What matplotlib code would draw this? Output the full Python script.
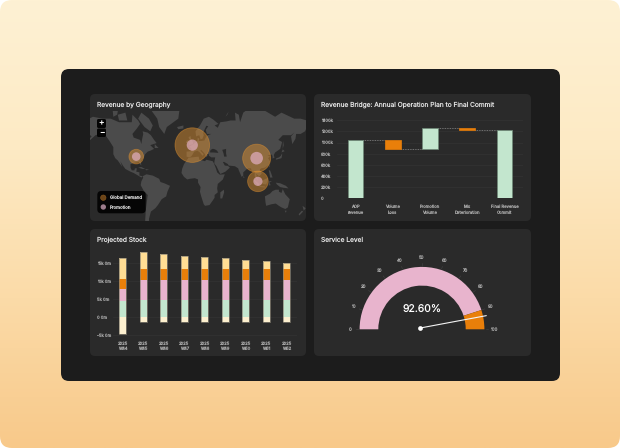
#!/usr/bin/env python3
import numpy as np
import matplotlib

matplotlib.use("Agg")

import matplotlib.pyplot as plt
from matplotlib.colors import LinearSegmentedColormap
from matplotlib.patches import Circle, FancyBboxPatch, Polygon, Wedge

W, H = 620, 448

PANEL = "#2a2a2a"
DARK = "#1c1c1c"
LAND = "#4b4b4b"
ORANGE = "#e97f0a"
PINK = "#e8b4cd"
GREEN = "#c3e6ce"
YELLOW = "#ffdd94"
PALE = "#fdf0cf"
TEXT = "#e4e4e4"
TICK = "#a8a8a8"
GRID = "#343434"

# waterfall
bridge_labels = ["AOP\nrevenue", "Volume\nLoss", "Promotion\nVolume", "Mix\nDeterioration", "Final Revenue\nCommit"]
bridge_start = [0, 1048, 885, 1268, 0]
bridge_end = [1048, 885, 1268, 1232, 1232]
bridge_ticks = [0, 200, 400, 600, 800, 1000, 1200, 1400]
bridge_tick_labels = ["0", "200k", "400k", "600k", "800k", "1000k", "1200k", "1400k"]

# stacked bars
weeks = ["2025\nW44", "2025\nW45", "2025\nW46", "2025\nW47", "2025\nW48", "2025\nW49", "2025\nW50", "2025\nW51", "2025\nW52"]
stock_neg = [-4.6, -1.2, -1.2, -1.2, -1.2, -1.2, -1.2, -1.2, -1.2]
stock_green = [4.4, 4.7, 4.7, 4.7, 4.7, 4.7, 4.7, 4.7, 4.7]
stock_pink = [3.4, 5.6, 5.6, 5.6, 5.6, 5.6, 5.6, 5.6, 5.6]
stock_orange = [2.8, 2.9, 2.9, 2.9, 2.9, 2.9, 2.9, 2.9, 2.9]
stock_yellow = [5.8, 4.7, 4.1, 3.7, 3.3, 3.0, 2.6, 2.3, 1.8]
stock_ticks = [-5, 0, 5, 10, 15]
stock_tick_labels = ["-5k 0m", "0 0m", "5k 0m", "10k 0m", "15k 0m"]

# gauge
gauge_value = 92.6
gauge_split = 90
gauge_ticks = [0, 10, 20, 30, 40, 50, 60, 70, 80, 90, 100]

# map bubbles: lon, lat, outer px radius, inner px radius
bubble_lon = [-88, 0, 101, 103]
bubble_lat = [37, 50, 35, 1]
bubble_demand = [7.3, 17.3, 14.0, 10.3]
bubble_promo = [4.3, 5.6, 6.3, 4.6]

LAND_SHAPES = [
    # north america
    [(-168, 66), (-162, 70), (-156, 71), (-141, 70), (-128, 70), (-115, 68), (-108, 68), (-95, 68), (-94, 72), (-85, 69),
     (-82, 67), (-87, 64), (-94, 60), (-92, 57), (-82, 55), (-80, 51), (-79, 55), (-77, 60), (-78, 62), (-70, 61),
     (-65, 59), (-60, 55), (-56, 52), (-66, 50), (-60, 46), (-66, 44), (-70, 43), (-74, 40), (-76, 36), (-81, 31),
     (-80, 25), (-82, 27), (-84, 30), (-90, 29), (-97, 27), (-97, 22), (-95, 18), (-91, 18), (-90, 21), (-87, 21),
     (-88, 16), (-83, 15), (-83, 10), (-78, 9), (-80, 7), (-85, 10), (-92, 14), (-97, 16), (-105, 20), (-109, 25),
     (-113, 31), (-110, 23), (-117, 32), (-121, 35), (-124, 40), (-124, 48), (-130, 54), (-135, 58), (-145, 60),
     (-152, 59), (-160, 55), (-165, 54), (-158, 58), (-165, 61), (-166, 64)],
    # south america
    [(-78, 9), (-72, 12), (-62, 10), (-52, 5), (-50, 0), (-44, -2), (-35, -6), (-39, -15), (-41, -22), (-48, -26),
     (-54, -34), (-58, -38), (-65, -42), (-68, -50), (-68, -55), (-74, -52), (-73, -40), (-70, -20), (-76, -14),
     (-81, -5), (-80, 1), (-77, 7)],
    # greenland and arctic islands
    [(-73, 78), (-60, 82), (-30, 83.5), (-18, 78), (-22, 70), (-40, 65), (-44, 60), (-52, 65), (-55, 70), (-70, 76)],
    [(-80, 73), (-68, 70), (-62, 66), (-66, 62), (-75, 65), (-85, 70)],
    [(-117, 72), (-105, 73), (-102, 69), (-115, 69)],
    [(-125, 74), (-116, 75), (-118, 72), (-124, 71)],
    [(-59, 51), (-53, 47), (-59, 47)],
    # caribbean
    [(-85, 22), (-80, 23), (-74, 20), (-78, 20)],
    [(-74, 20), (-68, 19), (-72, 18)],
    # eurasia
    [(-9, 37), (-9, 43), (-2, 43.5), (-1, 46), (-4.5, 48.5), (2, 51), (8, 54), (8.5, 57), (11, 56), (10, 54), (14, 54),
     (19, 54.5), (21, 57), (24, 59), (30, 60), (23, 60), (21, 63), (25, 65.5), (22, 65.8), (17, 61), (18, 59), (16, 56),
     (13, 55.5), (11, 59), (6, 58), (5, 62), (12, 66), (18, 70), (26, 71), (33, 69.5), (41, 67), (35, 66), (40, 64.5),
     (44, 68), (54, 68.5), (60, 69), (68, 69), (67, 73), (73, 72), (75, 68), (80, 73), (90, 75), (104, 77.7), (113, 74),
     (130, 71), (140, 73), (160, 70), (170, 70), (180, 69), (180, 65), (177, 62), (170, 60), (163, 60), (162, 56),
     (157, 51), (155, 58), (160, 61), (155, 59), (142, 59), (135, 55), (141, 53), (138, 46), (130, 42), (128, 39),
     (129, 35.5), (126, 34.5), (126, 37), (125, 39.5), (121, 39), (118, 39), (122, 37), (119, 35), (122, 31), (120, 26),
     (114, 22), (108, 21), (106, 19), (109, 13), (105, 9), (100, 13), (103.5, 1.5), (100, 6), (98, 9), (98, 16), (94, 16),
     (92, 21), (87, 21), (80, 15), (80, 10), (77.5, 8), (73, 18), (72, 21), (67, 24), (57, 25), (56, 27), (50, 30),
     (48, 30), (51, 25), (56, 24.5), (59, 22), (52, 16), (44, 12.5), (42, 16), (38, 24), (34.5, 28), (35, 32), (36, 36),
     (30, 36), (26, 38), (26, 40), (23, 40), (24, 38), (22, 36.5), (19, 41), (14, 45), (12.5, 44), (18, 40), (16, 38),
     (12, 42), (8, 44), (3, 43), (0, 39), (-2, 37), (-5, 36)],
    # africa
    [(-6, 35.5), (10, 37), (11, 33), (20, 31), (22, 33), (32, 31), (34, 28), (37, 21), (39, 15), (43, 11.5), (51, 12),
     (48, 4), (40, -3), (39, -10), (40, -16), (35, -20), (35, -24), (32, -28), (27, -34), (20, -35), (18, -33), (14, -22),
     (12, -15), (13, -8), (9, -1), (9, 4), (4, 6), (-4, 5), (-8, 4), (-13, 8), (-17, 14), (-16, 20), (-13, 27), (-9, 32)],
    # islands
    [(-5, 50), (1, 51), (1, 53), (-2, 56), (-3, 58.5), (-6, 57), (-3, 54), (-5, 52)],
    [(-10, 52), (-6, 52), (-6, 55), (-9, 54)],
    [(-24, 65), (-14, 66), (-14, 64), (-22, 63.5)],
    [(52, 71), (58, 74), (68, 77), (60, 75.5), (55, 72)],
    [(131, 33), (136, 34), (140, 35), (141, 39), (141, 41), (139, 38), (136, 36), (132, 35)],
    [(140, 42), (145, 43.5), (142, 45.5)],
    [(142, 46), (143.5, 50), (142.5, 54), (142, 50)],
    [(95, 5.5), (104, -2), (106, -6), (102, -4.5), (97, 2)],
    [(105, -6.5), (114, -7), (114, -8.5), (106, -7.8)],
    [(109, 1), (114, 4.5), (119, 6.5), (118, 1), (116, -4), (110, -3)],
    [(120, 1), (125, 1.5), (121, -1), (123, -5), (120, -5.5)],
    [(120, 18), (122, 18), (124, 13), (126, 7), (122, 7), (121, 14)],
    [(120.5, 25), (122, 25), (121, 22)],
    [(131, -1), (138, -2), (147, -6), (151, -10), (143, -9), (138, -8), (133, -4)],
    [(114, -22), (122, -18), (126, -14), (131, -12), (136, -12), (136, -15), (140, -17), (142, -11), (146, -19),
     (153, -26), (150, -37), (146, -39), (140, -37), (136, -35), (131, -32), (124, -33), (116, -35), (115, -31)],
    [(145, -41), (148, -41), (147, -43.5)],
    [(173, -35), (178, -38), (175, -41), (174, -38)],
    [(172, -41), (174, -42), (168, -46.5), (167, -45)],
    [(44, -16), (49.5, -12), (50, -16), (47, -25), (44, -25)],
    [(80, 9.5), (82, 7), (80.5, 6)],
]

SEA_SHAPES = [
    [(28, 42), (33, 42), (41, 41.5), (39, 44), (37, 45), (34, 46), (31, 46), (28, 44)],
    [(47, 45), (53, 46), (53, 41), (54, 37), (50, 37), (49, 41)],
]


def px_axes(fig, x0, y0, x1, y1):
    return fig.add_axes([x0 / W, 1 - y1 / H, (x1 - x0) / W, (y1 - y0) / H])


def rounded(x0, y0, x1, y1, r, **kw):
    return FancyBboxPatch((x0, y0), x1 - x0, y1 - y0, boxstyle=f"round,pad=0,rounding_size={r}", linewidth=0, **kw)


def merc(lat):
    return np.degrees(np.log(np.tan(np.pi / 4 + np.radians(lat) / 2)))


def clean(ax):
    ax.patch.set_alpha(0)
    for s in ax.spines.values():
        s.set_visible(False)


def draw_background(fig):
    bg = fig.add_axes([0, 0, 1, 1])
    bg.axis("off")
    cmap = LinearSegmentedColormap.from_list("bg", ["#fef1d4", "#fdeac4", "#fbdba8", "#f8c98a"])
    ramp = np.linspace(0, 1, 256)[:, None]
    im = bg.imshow(ramp, extent=(0, W, H, 0), cmap=cmap, aspect="auto")
    bg.set_xlim(0, W)
    bg.set_ylim(H, 0)
    clip = rounded(0, 0, W, H, 12, facecolor="none")
    bg.add_patch(clip)
    im.set_clip_path(clip)
    bg.add_patch(rounded(61, 69, 560, 381, 8, facecolor=DARK))
    for x0, y0, x1, y1, title in [
        (90, 94, 306, 221, "Revenue by Geography"),
        (314, 94, 531, 221, "Revenue Bridge: Annual Operation Plan to Final Commit"),
        (90, 229, 306, 356, "Projected Stock"),
        (314, 229, 531, 356, "Service Level"),
    ]:
        bg.add_patch(rounded(x0, y0, x1, y1, 5, facecolor=PANEL))
        bg.text(x0 + 7, y0 + 11, title, color=TEXT, fontsize=4.75, va="center")


def draw_map(fig):
    x0, y0, x1, y1 = 90, 111.5, 306, 221
    ax = px_axes(fig, x0, y0, x1, y1)
    ax.axis("off")
    scale = 0.637
    ax.set_xlim((x0 - 192.3) / scale, (x1 - 192.3) / scale)
    ax.set_ylim((182 - y1) / scale, (182 - y0) / scale)

    for shape in LAND_SHAPES:
        pts = np.array(shape, dtype=float)
        ax.add_patch(Polygon(np.column_stack([pts[:, 0], merc(pts[:, 1])]), closed=True, facecolor=LAND, edgecolor="none"))
    for shape in SEA_SHAPES:
        pts = np.array(shape, dtype=float)
        ax.add_patch(Polygon(np.column_stack([pts[:, 0], merc(pts[:, 1])]), closed=True, facecolor=PANEL, edgecolor="none"))

    for lon, lat, outer, inner in zip(bubble_lon, bubble_lat, bubble_demand, bubble_promo):
        ax.add_patch(Circle((lon, merc(lat)), outer / scale, facecolor="#e8952f", alpha=0.45,
                            edgecolor="#e8952f", linewidth=0.6))
        ax.add_patch(Circle((lon, merc(lat)), inner / scale, facecolor=PINK, alpha=0.65, edgecolor="none"))


def draw_map_overlay(fig):
    ov = fig.add_axes([0, 0, 1, 1])
    ov.set_xlim(0, W)
    ov.set_ylim(H, 0)
    ov.axis("off")
    ov.add_patch(rounded(97, 119, 106, 128, 1.5, facecolor="#050505"))
    ov.add_patch(rounded(97, 128.5, 106, 137, 1.5, facecolor="#050505"))
    ov.text(101.6, 123.3, "+", color="white", fontsize=6, ha="center", va="center")
    ov.text(101.6, 132.5, "\u2212", color="white", fontsize=6, ha="center", va="center")
    ov.add_patch(rounded(97.3, 191, 145.7, 213.3, 4, facecolor="#050505"))
    ov.add_patch(Circle((103.3, 197.7), 2.7, facecolor="#6b4418", edgecolor="#8a5a20", linewidth=0.4))
    ov.add_patch(Circle((103.3, 207), 2.7, facecolor="#9c7c8c", edgecolor="none"))
    ov.text(110, 198, "Global Demand", color="#d0d0d0", fontsize=3.2, va="center")
    ov.text(110, 207.2, "Promotion", color="#d0d0d0", fontsize=3.2, va="center")


def draw_bridge(fig):
    ax = px_axes(fig, 337, 120.3, 523, 198.3)
    clean(ax)
    x = np.arange(len(bridge_labels))
    for i, (a, b) in enumerate(zip(bridge_start, bridge_end)):
        colour = GREEN if b > a else ORANGE
        ax.bar(x[i], abs(b - a), bottom=min(a, b), width=0.42, color=colour,
               edgecolor="#6f8a78" if b > a else colour, linewidth=0.5, zorder=3)
    for i in range(len(x) - 1):
        ax.plot([x[i] + 0.21, x[i + 1] - 0.21], [bridge_end[i], bridge_end[i]], color="#8a8a8a",
                linewidth=0.6, linestyle=(0, (1, 1)), zorder=2)
    ax.set_xlim(-0.5, 4.5)
    ax.set_ylim(0, 1400)
    ax.set_yticks(bridge_ticks)
    ax.set_yticklabels(bridge_tick_labels, ha="left")
    ax.set_xticks(x)
    ax.set_xticklabels(bridge_labels, linespacing=1.35)
    ax.tick_params(axis="y", length=0, labelsize=3.0, labelcolor=TICK, pad=11.3)
    ax.tick_params(axis="x", length=0, labelsize=3.0, labelcolor=TICK, pad=4.5)
    ax.grid(axis="y", color=GRID, linewidth=0.5, zorder=0)
    ax.set_axisbelow(True)


def draw_stock(fig):
    ax = px_axes(fig, 112.5, 251.7, 297, 340)
    clean(ax)
    x = np.arange(len(weeks))
    w = 0.36
    ax.bar(x, stock_neg, width=w, color=PALE, zorder=3)
    bottom = np.zeros(len(weeks))
    for values, colour in [(stock_green, GREEN), (stock_pink, PINK), (stock_orange, ORANGE), (stock_yellow, YELLOW)]:
        ax.bar(x, values, bottom=bottom, width=w, color=colour, zorder=3)
        bottom = bottom + np.array(values)
    # outline round each whole stack
    ax.bar(x, bottom - np.array(stock_neg), bottom=stock_neg, width=w, facecolor="none",
           edgecolor="#8a8475", linewidth=0.5, zorder=4)
    ax.set_xlim(-0.5, 8.5)
    ax.set_ylim(-6.25, 18.05)
    ax.set_yticks(stock_ticks)
    ax.set_yticklabels(stock_tick_labels, ha="left")
    ax.set_xticks(x)
    ax.set_xticklabels(weeks, linespacing=1.15)
    ax.tick_params(axis="y", length=0, labelsize=3.0, labelcolor=TICK, pad=11.2)
    ax.tick_params(axis="x", length=0, labelsize=3.0, labelcolor=TICK, pad=1)
    ax.grid(axis="y", color=GRID, linewidth=0.5, zorder=0)
    ax.set_axisbelow(True)


def draw_gauge(fig):
    cx, cy = 422.0, 329.3
    ax = px_axes(fig, 314, 229, 531, 356)
    ax.set_xlim(314 - cx, 531 - cx)
    ax.set_ylim(cy - 356, cy - 229)
    ax.axis("off")
    outer, inner = 62.4, 43.7

    def angle(v):
        return 180 * (1 - v / 100)

    ax.add_patch(Wedge((0, 0), outer, angle(gauge_split), 180, width=outer - inner, facecolor=PINK, linewidth=0))
    ax.add_patch(Wedge((0, 0), outer, 0, angle(gauge_split), width=outer - inner, facecolor=ORANGE, linewidth=0))
    for t in gauge_ticks:
        a = np.radians(angle(t))
        ax.text(72 * np.cos(a), 72 * np.sin(a), str(t), color=TICK, fontsize=3.2, ha="center", va="center")
        ax.plot([66 * np.cos(a), 63.5 * np.cos(a)], [66 * np.sin(a), 63.5 * np.sin(a)], color="#444444", linewidth=0.4)
    a = np.radians(10.6)
    ax.plot([-1.7, 64.3], [1.3, 1.3 + 66 * np.tan(a)], color="#f4f4f4", linewidth=0.8, solid_capstyle="round")
    ax.plot([-1.7], [1.3], "o", color="white", markersize=3.4, markeredgewidth=0)
    ax.text(0.3, 20, f"{gauge_value:.2f}%", color="white", fontsize=7.5, ha="center", va="center")


def main():
    plt.rcParams["font.family"] = ["Inter", "DejaVu Sans"]
    plt.rcParams["text.hinting"] = "no_hinting"
    fig = plt.figure(figsize=(W / 100, H / 100), dpi=100, facecolor="white")
    draw_background(fig)
    draw_map(fig)
    draw_map_overlay(fig)
    draw_bridge(fig)
    draw_stock(fig)
    draw_gauge(fig)
    fig.savefig("out.png", dpi=100)


if __name__ == "__main__":
    main()
